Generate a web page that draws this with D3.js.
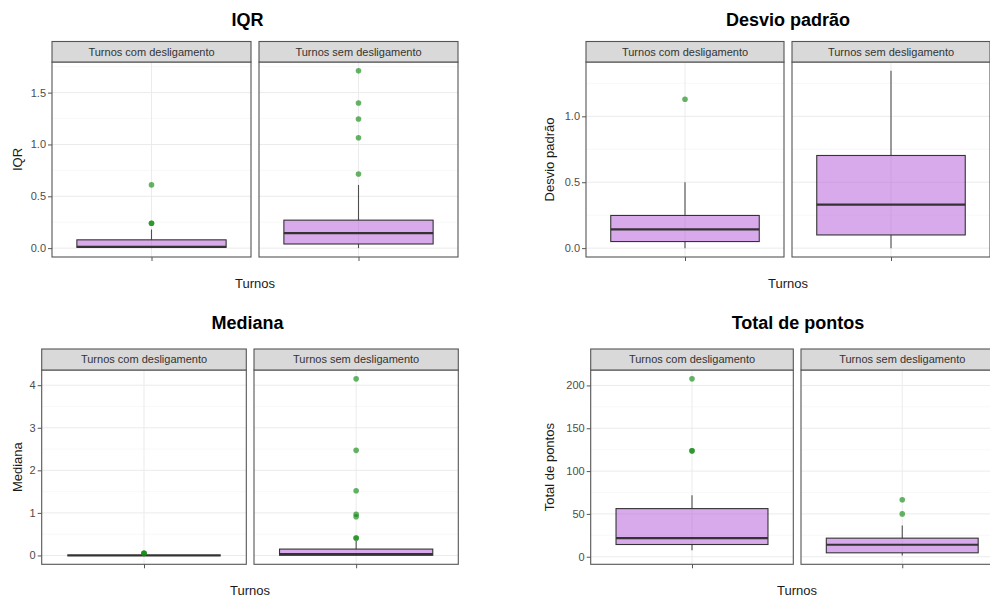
<!DOCTYPE html>
<html><head><meta charset="utf-8">
<script src="https://cdn.jsdelivr.net/npm/d3@7"></script>
<style>
body{margin:0;background:#fff;}
svg text{font-family:"Liberation Sans",Arial,Helvetica,sans-serif;}
</style></head>
<body>
<svg id="chart" width="990" height="599"></svg>
<script>
// ---------- DATA ----------
const groups = ["Turnos com desligamento", "Turnos sem desligamento"];
const titles = ["IQR", "Desvio padrão", "Mediana", "Total de pontos"];
const xAxisTitle = "Turnos";

// box stats: [lower whisker, Q1, median, Q3, upper whisker] per group
const iqrStats = [[0, 0.008, 0.012, 0.08, 0.18], [0, 0.04, 0.145, 0.27, 0.61]];
const iqrOutliers = [[0.24, 0.24, 0.61], [0.715, 1.065, 1.245, 1.40, 1.71]];
const iqrTicks = [0, 0.5, 1.0, 1.5];

const sdStats = [[0, 0.05, 0.142, 0.248, 0.50], [0, 0.10, 0.33, 0.703, 1.345]];
const sdOutliers = [[1.13], []];
const sdTicks = [0, 0.5, 1.0];

const medStats = [[0, 0, 0, 0, 0], [0, 0.005, 0.03, 0.15, 0.34]];
const medOutliers = [[0.05, 0.05, 0.05], [0.41, 0.41, 0.91, 0.97, 1.52, 2.47, 4.15]];
const medTicks = [0, 1, 2, 3, 4];

const totStats = [[7.7, 14.3, 21.7, 56.2, 71.7], [1.5, 4.6, 14, 21.7, 36.4]];
const totOutliers = [[123.6, 123.6, 207.7], [50, 66.6]];
const totTicks = [0, 50, 100, 150, 200];

// ---------- LAYOUT (positions only) ----------
const layouts = [
  {panels: [[52, 251], [259, 458]], top: 62, bottom: 257, strip: 20.5, titleX: 247.5, titleY: 26, yTitleX: 17, xTitleY: 287.5, fmt: ".1f"},
  {panels: [[586, 784], [792, 990]], top: 62, bottom: 257, strip: 20.5, titleX: 788, titleY: 26, yTitleX: 549, xTitleY: 287.5, fmt: ".1f"},
  {panels: [[41.7, 246.3], [254, 458.3]], top: 370, bottom: 564.3, strip: 21, titleX: 247.5, titleY: 328.5, yTitleX: 17, xTitleY: 594.5, fmt: "d"},
  {panels: [[590.7, 793.3], [801, 1003.5]], top: 370, bottom: 564.3, strip: 21, titleX: 798, titleY: 328.5, yTitleX: 549, xTitleY: 594.5, fmt: "d"}
];
const series = [
  {stats: iqrStats, outliers: iqrOutliers, ticks: iqrTicks},
  {stats: sdStats, outliers: sdOutliers, ticks: sdTicks},
  {stats: medStats, outliers: medOutliers, ticks: medTicks},
  {stats: totStats, outliers: totOutliers, ticks: totTicks}
];

const svg = d3.select("#chart");
const boxFill = "#b455d8", boxOpacity = 0.5, lineCol = "#333333";

series.forEach((s, i) => {
  const L = layouts[i];
  const g = svg.append("g");
  const all = s.stats.flat().concat(s.outliers.flat());
  const lo = d3.min(all), hi = d3.max(all), span = hi - lo;
  const y = d3.scaleLinear().domain([lo - 0.05 * span, hi + 0.05 * span]).range([L.bottom, L.top]);
  const dom = y.domain();
  // minor breaks at midpoints
  const step = s.ticks[1] - s.ticks[0];
  const minor = [];
  for (let v = s.ticks[0] - step / 2; v <= dom[1]; v += step) if (v >= dom[0]) minor.push(v);

  // title
  g.append("text").attr("x", L.titleX).attr("y", L.titleY).attr("text-anchor", "middle")
    .attr("font-size", 18).attr("font-weight", "bold").attr("fill", "#000").text(titles[i]);

  groups.forEach((grp, j) => {
    const [x0, x1] = L.panels[j];
    const x = d3.scaleLinear().domain([0.4, 1.6]).range([x0, x1]);
    const pg = g.append("g");
    // panel background
    pg.append("rect").attr("x", x0).attr("y", L.top).attr("width", x1 - x0).attr("height", L.bottom - L.top).attr("fill", "#fff");
    // minor grid
    pg.selectAll(".mn").data(minor).join("line")
      .attr("x1", x0).attr("x2", x1).attr("y1", d => y(d)).attr("y2", d => y(d))
      .attr("stroke", "#f4f4f4").attr("stroke-width", 0.6);
    // major grid
    pg.selectAll(".mj").data(s.ticks).join("line")
      .attr("x1", x0).attr("x2", x1).attr("y1", d => y(d)).attr("y2", d => y(d))
      .attr("stroke", "#ebebeb").attr("stroke-width", 1);
    pg.append("line").attr("x1", x(1)).attr("x2", x(1)).attr("y1", L.top).attr("y2", L.bottom)
      .attr("stroke", "#ebebeb").attr("stroke-width", 1);

    // box plot
    const st = s.stats[j];
    const bx0 = x(1 - 0.45), bx1 = x(1 + 0.45), cx = x(1);
    pg.append("line").attr("x1", cx).attr("x2", cx).attr("y1", y(st[3])).attr("y2", y(st[4]))
      .attr("stroke", lineCol).attr("stroke-width", 1.1).attr("opacity", 0.85);
    pg.append("line").attr("x1", cx).attr("x2", cx).attr("y1", y(st[1])).attr("y2", y(st[0]))
      .attr("stroke", lineCol).attr("stroke-width", 1.1).attr("opacity", 0.85);
    pg.append("rect").attr("x", bx0).attr("y", y(st[3])).attr("width", bx1 - bx0)
      .attr("height", Math.max(0, y(st[1]) - y(st[3])))
      .attr("fill", boxFill).attr("fill-opacity", boxOpacity)
      .attr("stroke", lineCol).attr("stroke-width", 1.1);
    pg.append("line").attr("x1", bx0).attr("x2", bx1).attr("y1", y(st[2])).attr("y2", y(st[2]))
      .attr("stroke", lineCol).attr("stroke-width", 2.2);
    // outliers
    pg.selectAll(".out").data(s.outliers[j]).join("circle")
      .attr("cx", cx).attr("cy", d => y(d)).attr("r", 2.8)
      .attr("fill", "#138a13").attr("fill-opacity", 0.65);

    // panel border
    pg.append("rect").attr("x", x0).attr("y", L.top).attr("width", x1 - x0).attr("height", L.bottom - L.top)
      .attr("fill", "none").attr("stroke", "#555").attr("stroke-width", 1.1);
    // strip
    pg.append("rect").attr("x", x0).attr("y", L.top - L.strip).attr("width", x1 - x0).attr("height", L.strip)
      .attr("fill", "#d9d9d9").attr("stroke", "#555").attr("stroke-width", 1.1);
    pg.append("text").attr("x", (x0 + x1) / 2).attr("y", L.top - L.strip / 2 + 3.8)
      .attr("text-anchor", "middle").attr("font-size", 11).attr("fill", "#333").text(grp);

    // x axis ticks (no labels)
    const xa = pg.append("g").attr("transform", `translate(0,${L.bottom})`)
      .call(d3.axisBottom(x).tickValues([1]).tickFormat("").tickSize(4));
    xa.select(".domain").remove();
    xa.selectAll("line").attr("stroke", "#555");
  });

  // y axis on left panel
  const ya = g.append("g").attr("transform", `translate(${L.panels[0][0]},0)`)
    .call(d3.axisLeft(y).tickValues(s.ticks).tickFormat(d3.format(L.fmt)).tickSize(4).tickPadding(2));
  ya.select(".domain").remove();
  ya.selectAll("line").attr("stroke", "#555");
  ya.selectAll("text").attr("font-size", 11).attr("fill", "#4d4d4d")
    .style("font-family", '"Liberation Sans",Arial,sans-serif');

  // axis titles
  g.append("text").attr("transform", `translate(${L.yTitleX},${(L.top + L.bottom) / 2}) rotate(-90)`)
    .attr("text-anchor", "middle").attr("dy", "0.35em").attr("font-size", 13).attr("fill", "#1a1a1a").text(titles[i]);
  const xc = (L.panels[0][0] + L.panels[1][1]) / 2;
  g.append("text").attr("x", xc).attr("y", L.xTitleY).attr("text-anchor", "middle")
    .attr("font-size", 13).attr("fill", "#1a1a1a").text(xAxisTitle);
});
</script>
</body></html>
